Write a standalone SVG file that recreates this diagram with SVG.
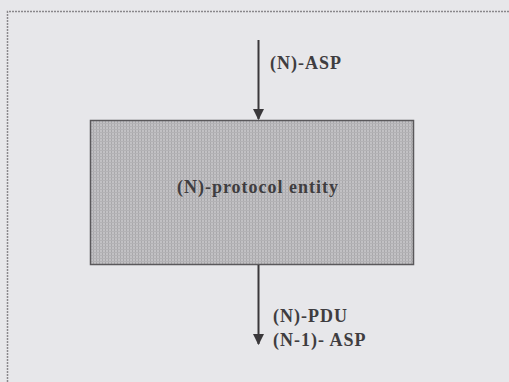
<svg xmlns="http://www.w3.org/2000/svg" width="509" height="382" viewBox="0 0 509 382">
<style>
.lbl{font-family:"Liberation Serif","Times New Roman",serif;font-size:18px;font-weight:bold;fill:#3f3d40;letter-spacing:1px}
.conn{stroke:#3a383b;stroke-width:2;fill:none}
</style>
<defs>
<pattern id="grid" width="3" height="3" patternUnits="userSpaceOnUse">
<rect width="3" height="3" fill="#c2c1c4"/>
<rect width="1" height="3" fill="#a9a8ab"/>
<rect width="3" height="1" fill="#b3b2b5"/>
</pattern>
<marker id="ah" viewBox="0 0 10 10" refX="9" refY="5" markerWidth="5.5" markerHeight="5.5" orient="auto" markerUnits="strokeWidth">
<path d="M0,0 L10,5 L0,10 z" fill="#3a383b"/>
</marker>
</defs>
<rect width="509" height="382" fill="#e7e7ea"/>
<path d="M7.5,382 V11.5 H509" fill="none" stroke="#8a888c" stroke-width="1.5" stroke-dasharray="2 1"/>
<g id="entity">
<rect x="90.5" y="120.5" width="323" height="144" fill="url(#grid)" stroke="#5a585b" stroke-width="1.5"/>
<text class="lbl" x="258" y="193" text-anchor="middle">(N)-protocol entity</text>
</g>
<g id="connectors">
<line class="conn" x1="258.5" y1="40" x2="258.5" y2="119" marker-end="url(#ah)"/>
<line class="conn" x1="258.5" y1="265" x2="258.5" y2="344" marker-end="url(#ah)"/>
</g>
<g id="labels">
<text class="lbl" x="270" y="69">(N)-ASP</text>
<text class="lbl" x="273" y="322">(N)-PDU</text>
<text class="lbl" x="273" y="346">(N-1)- ASP</text>
</g>
</svg>
